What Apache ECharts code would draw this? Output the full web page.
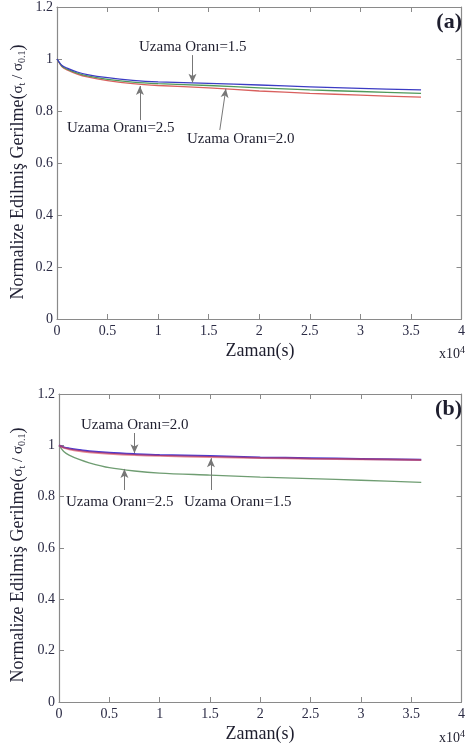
<!DOCTYPE html>
<html>
<head>
<meta charset="utf-8">
<script src="https://cdn.jsdelivr.net/npm/echarts@6/dist/echarts.min.js"></script>
<style>
html,body{margin:0;padding:0;background:#fff;}
#chart{width:468px;height:749px;}
</style>
</head>
<body>
<div id="chart"></div>
<script>
// time in units of 1e4 s
const timeA = [0, 0.05, 0.1, 0.2, 0.3, 0.5, 0.75, 1.0, 1.5, 2.0, 2.5, 3.0, 3.6];
const a_ratio15 = [1.0, 0.975, 0.965, 0.950, 0.940, 0.928, 0.918, 0.912, 0.906, 0.900, 0.893, 0.887, 0.881];
const a_ratio20 = [1.0, 0.972, 0.961, 0.946, 0.935, 0.922, 0.911, 0.905, 0.898, 0.889, 0.881, 0.875, 0.868];
const a_ratio25 = [1.0, 0.970, 0.958, 0.942, 0.931, 0.917, 0.905, 0.898, 0.889, 0.877, 0.868, 0.861, 0.853];

const timeB = [0, 0.05, 0.1, 0.2, 0.3, 0.5, 0.75, 1.0, 1.5, 2.0, 2.5, 3.0, 3.6];
const b_ratio20 = [1.0, 0.992, 0.988, 0.982, 0.977, 0.971, 0.966, 0.962, 0.958, 0.953, 0.950, 0.947, 0.944];
const b_ratio15 = [1.0, 0.990, 0.985, 0.978, 0.973, 0.967, 0.962, 0.959, 0.955, 0.951, 0.948, 0.946, 0.943];
const b_ratio25 = [1.0, 0.975, 0.962, 0.945, 0.932, 0.913, 0.900, 0.892, 0.884, 0.876, 0.870, 0.864, 0.856];

const xTicks = ['0','0.5','1','1.5','2','2.5','3','3.5','4'];
const yTicks = ['0','0.2','0.4','0.6','0.8','1','1.2'];

const SERIF = '"Liberation Serif", "DejaVu Serif", serif';
const AXC = '#8a8a8a';
const LBL = '#2b2b45';

function pairs(xs, ys){ return xs.map((x,i)=>[x, ys[i]]); }

function xAx(grid, pos, showLabel){
  return {
    type:'value', gridIndex:grid, position:pos, min:0, max:4, interval:0.5,
    axisLine:{show:true, onZero:false, lineStyle:{color:AXC, width:1.2}},
    axisTick:{show:true, inside:true, length:5, lineStyle:{color:AXC}},
    splitLine:{show:false},
    axisLabel:{show:showLabel, margin:5, color:LBL, fontFamily:SERIF, fontSize:14,
      formatter:(v)=>{ const i = Math.round(v/0.5); return xTicks[i] !== undefined ? xTicks[i] : ''; }}
  };
}
function yAx(grid, pos, showLabel){
  return {
    type:'value', gridIndex:grid, position:pos, min:0, max:1.2, interval:0.2,
    axisLine:{show:true, onZero:false, lineStyle:{color:AXC, width:1.2}},
    axisTick:{show:true, inside:true, length:5, lineStyle:{color:AXC}},
    splitLine:{show:false},
    axisLabel:{show:showLabel, margin:4, color:LBL, fontFamily:SERIF, fontSize:14,
      formatter:(v)=>{ const i = Math.round(v/0.2); return yTicks[i] !== undefined ? yTicks[i] : ''; }}
  };
}

function arrow(x1,y1,x2,y2){
  return [{coord:[x1,y1], symbol:'none'}, {coord:[x2,y2], symbol:'arrow', symbolSize:[6,9]}];
}
function arrowsML(list){
  return {
    silent:true, animation:false,
    symbol:['none','arrow'],
    lineStyle:{color:'#777', width:1, type:'solid'},
    label:{show:false},
    data:list
  };
}

const lineBase = {type:'line', showSymbol:false, smooth:0.3, animation:false};

const option = {
  backgroundColor:'#fff',
  grid:[
    {left:57, top:7, width:409, height:312},
    {left:59, top:394, width:410, height:308}
  ],
  xAxis:[xAx(0,'bottom',true), xAx(0,'top',false), xAx(1,'bottom',true), xAx(1,'top',false)],
  yAxis:[yAx(0,'left',true), yAx(0,'right',false), yAx(1,'left',true), yAx(1,'right',false)],
  series:[
    Object.assign({}, lineBase, {name:'a 2.5', xAxisIndex:0, yAxisIndex:0, data:pairs(timeA,a_ratio25),
      lineStyle:{color:'#d9605e', width:1.3},
      markLine:arrowsML([arrow(0.82,0.765,0.82,0.896), arrow(1.61,0.727,1.67,0.886)])}),
    Object.assign({}, lineBase, {name:'a 2.0', xAxisIndex:0, yAxisIndex:0, data:pairs(timeA,a_ratio20),
      lineStyle:{color:'#4f9a5a', width:1.3}}),
    Object.assign({}, lineBase, {name:'a 1.5', xAxisIndex:0, yAxisIndex:0, data:pairs(timeA,a_ratio15),
      lineStyle:{color:'#3c3cc4', width:1.3},
      markLine:arrowsML([arrow(1.34,1.015,1.34,0.909)])}),

    Object.assign({}, lineBase, {name:'b 2.5', xAxisIndex:2, yAxisIndex:2, data:pairs(timeB,b_ratio25),
      lineStyle:{color:'#6f9d72', width:1.3},
      markLine:arrowsML([arrow(0.65,0.826,0.65,0.908), arrow(1.51,0.826,1.51,0.95)])}),
    Object.assign({}, lineBase, {name:'b 2.0', xAxisIndex:2, yAxisIndex:2, data:pairs(timeB,b_ratio20),
      lineStyle:{color:'#4a3ad0', width:2},
      markLine:arrowsML([arrow(0.75,1.048,0.75,0.969)])}),
    Object.assign({}, lineBase, {name:'b 1.5', xAxisIndex:2, yAxisIndex:2, data:pairs(timeB,b_ratio15),
      lineStyle:{color:'#d8404a', width:2, opacity:0.6}})
  ],
  graphic:[]
};

function yName(cx, cy){
  return {
    type:'text', x:cx, y:cy, rotation:Math.PI/2, silent:true,
    style:{
      text:'{m|Normalize Edilmiş Gerilme(}{s|σ}{sub|t}{s| / σ}{sub|0.1}{m|)}',
      align:'center', verticalAlign:'middle',
      rich:{
        m:{fontFamily:SERIF, fontSize:18, fill:'#222235'},
        s:{fontFamily:SERIF, fontSize:15, fill:'#222235'},
        sub:{fontFamily:SERIF, fontSize:10, fill:'#222235', verticalAlign:'bottom', padding:[6,0,0,0]}
      }
    }
  };
}
function txt(x,y,t,size,bold,align){
  return {type:'text', x:x, y:y, silent:true,
    style:{text:t, fontFamily:SERIF, fontSize:size, fontWeight:bold?'bold':'normal', fill:'#1e1e2e',
      align:align||'left', verticalAlign:'middle'}};
}
function x10(x,y){
  return {type:'text', x:x, y:y, silent:true,
    style:{text:'x10{sup|4}', fontFamily:SERIF, fontSize:14, fill:'#1e1e2e', align:'left', verticalAlign:'middle',
      rich:{sup:{fontFamily:SERIF, fontSize:10, fill:'#1e1e2e', padding:[0,0,8,0]}}}};
}

option.graphic = [
  yName(18, 172),
  yName(18, 555),
  txt(260, 351, 'Zaman(s)', 18, false, 'center'),
  txt(260, 734, 'Zaman(s)', 18, false, 'center'),
  x10(439, 354),
  x10(439, 738),
  txt(462, 22, '(a)', 22, true, 'right'),
  txt(462, 409, '(b)', 22, true, 'right'),
  txt(139, 47, 'Uzama Oranı=1.5', 15),
  txt(67, 128, 'Uzama Oranı=2.5', 15),
  txt(187, 139, 'Uzama Oranı=2.0', 15),
  txt(81, 425, 'Uzama Oranı=2.0', 15),
  txt(66, 502, 'Uzama Oranı=2.5', 15),
  txt(184, 502, 'Uzama Oranı=1.5', 15)
];

const chart = echarts.init(document.getElementById('chart'), null, {renderer:'canvas'});
chart.setOption(option);
</script>
</body>
</html>
